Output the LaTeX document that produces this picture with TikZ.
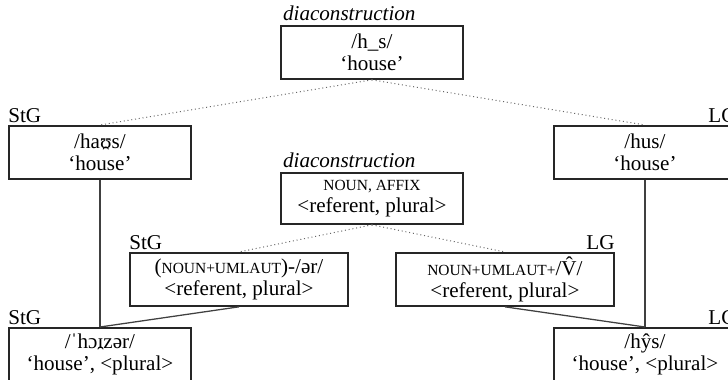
\documentclass[tikz,border=0pt]{standalone}
\usepackage{fontspec}
\setmainfont{Liberation Serif}
\tikzset{
  caja/.style={draw=black!85, line width=1.3pt, minimum width=4.55cm, minimum height=1.325cm,
    align=center, inner sep=0pt, font=\fontsize{15}{16}\selectfont},
  cajaancha/.style={caja, minimum width=5.45cm},
  etiq/.style={inner sep=0pt, font=\fontsize{15}{16}\selectfont},
  punteada/.style={dotted, draw=black!60, line width=0.7pt},
  rama/.style={draw=black!75, line width=0.9pt},
}
\newcommand{\versal}[1]{{\fontsize{11}{12}\selectfont #1}}
% arco debajo de la vocal (no silabica)
\newcommand{\arco}[1]{{\ooalign{#1\cr\hidewidth\raisebox{0.6em}{\rotatebox{180}{˘}}\hidewidth\cr}}}
\begin{document}
\begin{tikzpicture}[x=0.025cm, y=-0.025cm]
  \useasboundingbox (0,0) rectangle (728,380);
  \clip (0,0) rectangle (728,380);
  % Diaconstruccion de arriba
  \node[caja, anchor=north west] (top) at (280,25) {/h\_s/\\‘house’};
  \node[etiq, anchor=base west, xshift=2pt, yshift=3.5pt] (topL) at (top.north west) {\itshape diaconstruction};
  % Palabras StG y LG
  \node[caja, anchor=north west] (stgA) at (8,125) {/ha\arco{ʊ}s/\\‘house’};
  \node[etiq, anchor=base west, yshift=2pt] (stgAL) at (stgA.north west) {StG};
  \node[caja, anchor=north west] (lgA) at (553,125) {/hus/\\‘house’};
  \node[etiq, anchor=base east, yshift=2pt] (lgAL) at (lgA.north east) {LG};
  % Diaconstruccion del medio
  \node[caja, anchor=north west, minimum height=1.275cm] (mid) at (280,172) {\versal{NOUN, AFFIX}\\<referent, plural>};
  \node[etiq, anchor=base west, xshift=2pt, yshift=3.5pt] (midL) at (mid.north west) {\itshape diaconstruction};
  \node[cajaancha, anchor=north west] (stgM) at (129,252) {(\versal{NOUN+UMLAUT})-/ər/\\<referent, plural>};
  \node[etiq, anchor=base west, yshift=2pt] (stgML) at (stgM.north west) {StG};
  \node[cajaancha, anchor=north west] (lgM) at (395,252) {\versal{NOUN+UMLAUT+}/V̂/\\<referent, plural>};
  \node[etiq, anchor=base east, yshift=2pt] (lgML) at (lgM.north east) {LG};
  % Plurales
  \node[caja, anchor=north west] (stgB) at (8,327) {/ˈhɔ\arco{ɪ}zər/\\‘house’, <plural>};
  \node[etiq, anchor=base west, yshift=2pt] (stgBL) at (stgB.north west) {StG};
  \node[caja, anchor=north west] (lgB) at (553,327) {/hŷs/\\‘house’, <plural>};
  \node[etiq, anchor=base east, yshift=2pt] (lgBL) at (lgB.north east) {LG};
  % Lineas
  \draw[punteada] (top.south) -- (stgA.north);
  \draw[punteada] (top.south) -- (lgA.north);
  \draw[rama] (stgA.south) -- (stgB.north);
  \draw[rama] (lgA.south) -- (lgB.north);
  \draw[punteada] (mid.south) -- (stgM.north);
  \draw[punteada] (mid.south) -- (lgM.north);
  \draw[rama] (stgM.south) -- (stgB.north);
  \draw[rama] (lgM.south) -- (lgB.north);
\end{tikzpicture}
\end{document}
